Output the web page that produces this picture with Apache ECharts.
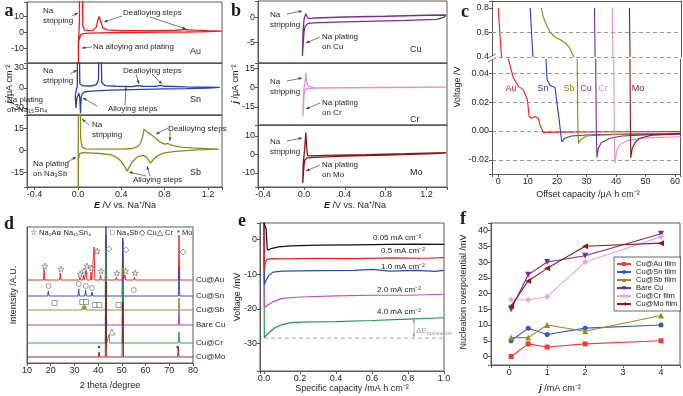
<!DOCTYPE html>
<html>
<head>
<meta charset="utf-8">
<script src="https://cdn.jsdelivr.net/npm/echarts@6/dist/echarts.min.js"></script>
<style>
html, body { margin: 0; padding: 0; background: #fff; }
#chart { width: 683px; height: 396px; }
</style>
</head>
<body>
<div id="chart"></div>
<script>
// ---------- panel a: CV of alloy films (E / V, j / uA cm-2) ----------
const cvAu = [
  [1.33, 0.8], [1.2, 0.5], [1.0, 0.3], [0.8, 0.2], [0.6, 0.1], [0.4, 0.0], [0.2, -0.2], [0.1, -0.4], [0.05, -0.7],
  [0.025, -1.4], [0.012, -2.5], [0.005, -6], [0.0, -200],
  [0.004, -6], [0.01, 0], [0.014, 8], [0.022, 200], [0.036, 200], [0.045, 4], [0.06, 1.6], [0.1, 1.2], [0.14, 1.5],
  [0.17, 3.5], [0.185, 8], [0.195, 10], [0.21, 7], [0.23, 2.8], [0.27, 1.6], [0.4, 1.2], [0.7, 1.2], [0.9, 1.4],
  [1.0, 1.8], [1.08, 1.5], [1.2, 1.1], [1.33, 0.8]
]
const cvSn = [
  [1.31, 0.8], [1.2, 0.0], [1.0, -0.8], [0.8, -1.3], [0.6, -2.0], [0.4, -2.8], [0.3, -3.3], [0.2, -4.0], [0.1, -5.0],
  [0.06, -6.0], [0.04, -8.5], [0.03, -14], [0.024, -38], [0.018, -16], [0.01, -8], [0.0, -9], [-0.01, -15],
  [-0.018, -30], [-0.024, -12],
  [-0.016, -3], [-0.006, 2], [0.0, 200], [0.01, 200], [0.018, 6], [0.05, 3.2], [0.12, 3.0], [0.17, 5], [0.19, 12],
  [0.2, 200], [0.21, 200], [0.22, 8], [0.25, 3.6], [0.35, 2.6], [0.5, 2.1], [0.53, 3.0], [0.56, 3.6], [0.6, 2.6],
  [0.72, 2.4], [0.76, 3.8], [0.8, 2.6], [1.0, 1.8], [1.2, 1.2], [1.31, 0.8]
]
const cvSb = [
  [1.3, 0.8], [1.1, 0.2], [1.0, -0.2], [0.9, -0.8], [0.8, -1.8], [0.74, -3.5], [0.7, -6], [0.67, -8.8], [0.655, -7],
  [0.63, -4.5], [0.6, -3.5], [0.55, -4.5], [0.5, -8], [0.47, -12], [0.455, -14.2], [0.43, -11], [0.4, -7.5],
  [0.35, -4.5], [0.3, -3], [0.2, -2.2], [0.1, -1.8], [0.04, -1.6], [0.015, -2.5], [0.005, -6], [0.0, -200],
  [0.003, -4], [0.006, 200], [0.012, 200], [0.025, 8], [0.04, 2], [0.07, 1], [0.2, 0.8], [0.4, 0.8], [0.5, 1.2],
  [0.55, 2.5], [0.58, 5], [0.6, 10], [0.61, 14.3], [0.63, 13], [0.67, 11], [0.72, 8], [0.76, 5.5], [0.8, 4.2],
  [0.83, 4.6], [0.87, 3.3], [0.95, 2.2], [1.05, 1.6], [1.2, 1.1], [1.3, 0.8]
]

// ---------- panel b: CV of non-alloy films ----------
const cvCu = [
  [1.39, 0.45], [1.37, 0.0], [1.3, -0.4], [1.0, -0.6], [0.6, -0.8], [0.3, -0.95], [0.1, -1.1], [0.04, -1.2],
  [0.01, -1.8], [0.0, -3], [-0.01, -6], [-0.015, -7.6],
  [-0.01, -3], [0.0, -0.5], [0.01, 0.3], [0.02, 0.7], [0.028, 0.2], [0.04, -0.2], [0.1, -0.15], [0.4, 0.05],
  [0.8, 0.2], [1.2, 0.4], [1.39, 0.45]
]
const cvCr = [
  [1.39, 0.4], [1.2, 0.1], [0.8, -0.1], [0.4, -0.3], [0.1, -0.5], [0.03, -0.8], [0.01, -2], [0.0, -6], [-0.01, -22.5],
  [-0.006, -8], [0.0, -1], [0.01, 4], [0.018, 11.5], [0.025, 6], [0.035, 1.5], [0.05, 0], [0.1, -0.3], [0.4, -0.1],
  [0.8, 0.1], [1.2, 0.3], [1.39, 0.4]
]
const cvMo = [
  [1.39, 0.6], [1.2, 0.2], [0.8, -0.4], [0.4, -1.0], [0.1, -1.6], [0.03, -1.9], [0.01, -3], [0.0, -6], [-0.012, -15.5],
  [-0.008, -5], [0.0, -1], [0.01, 5], [0.018, 11.7], [0.026, 4], [0.035, -0.6], [0.06, -0.8], [0.2, -0.6],
  [0.6, -0.2], [1.0, 0.3], [1.39, 0.9]
]

// ---------- panel c: voltage vs offset capacity (upper part 0.4-0.8 V, lower part near 0 V) ----------
const vAuHigh = [[0, 0.8], [1.1, 0.4]]
const vSnHigh = [[10.8, 0.8], [11.7, 0.4]]
const vSbHigh = [[14.5, 0.8], [15.3, 0.72], [16.5, 0.65], [17.6, 0.6], [19.3, 0.56], [21, 0.54], [22.7, 0.515], [24.2, 0.47], [25.5, 0.4]]
const vCuHigh = [[32.5, 0.8], [32.7, 0.4]]
const vCrHigh = [[38.5, 0.8], [38.7, 0.4]]
const vMoHigh = [[44.3, 0.8], [44.5, 0.4]]
const vAuLow = [[3.4, 0.05], [5.1, 0.037], [6.8, 0.031], [8.5, 0.0286], [9.9, 0.0216], [10.5, 0.01], [11.3, 0.0088],
  [12.5, 0.01], [13.6, 0.0088], [14.2, 0.0042], [15.3, -0.001], [20, -0.0008], [30, -0.0007], [45, -0.0006], [62, -0.0005]]
const vSnLow = [[16.2, 0.05], [16.6, 0.0356], [17.6, 0.0314], [19.3, 0.03], [19.8, 0.0216], [20.7, 0.0077], [21.2, -0.0016],
  [21.6, -0.0074], [22.6, -0.005], [24.9, -0.0035], [30, -0.0028], [40, -0.0024], [50, -0.002], [62, -0.0018]]
const vSbLow = [[26.8, 0.05], [27.0, 0.01], [27.2, -0.0086], [28, -0.006], [30, -0.0035], [35, -0.0028], [45, -0.0022], [62, -0.0016]]
const vCuLow = [[33.1, 0.05], [33.3, 0.0], [33.5, -0.0184], [34, -0.012], [35, -0.008], [38, -0.005], [42, -0.0035], [50, -0.0027], [62, -0.0022]]
const vCrLow = [[39.2, 0.05], [39.4, 0.0], [39.6, -0.0226], [40.2, -0.014], [41, -0.01], [44, -0.0065], [50, -0.0048], [62, -0.004]]
const vMoLow = [[44.7, 0.05], [44.9, 0.0], [45.0, -0.0186], [45.5, -0.012], [46.5, -0.008], [48, -0.005], [52, -0.003], [62, -0.0018]]
const cHighGuides = [0.6, 0.4]

// ---------- panel d: XRD (2 theta, offset intensity) ----------
const xrdNames = ['Cu@Au', 'Cu@Sn', 'Cu@Sb', 'Bare Cu', 'Cu@Cr', 'Cu@Mo']
const xrdBase = [83, 67, 53, 38, 20, 6]
const xrdPeaks = [
  [[17.2, 11], [24.0, 7], [32.3, 3], [33.8, 5], [35.0, 10], [37.0, 8], [38.3, 33], [41.0, 5], [43.3, 45], [47.7, 3], [50.4, 39], [51.3, 5], [55.3, 3], [74.1, 45]],
  [[19.0, 5], [31.8, 7], [34.7, 6], [37.4, 4], [43.3, 80], [50.4, 58], [55.0, 2], [74.1, 29]],
  [[21.6, 2], [33.4, 4], [34.1, 5], [34.8, 4], [38.7, 2], [40.5, 2], [43.3, 40], [48.6, 2], [50.4, 42], [74.1, 12]],
  [[43.3, 45], [50.4, 50], [74.1, 15]],
  [[43.3, 93], [44.6, 8], [50.4, 60], [74.1, 11]],
  [[40.4, 5], [43.3, 75], [50.4, 55], [73.8, 10]]
]
const markNa2Au = [[17.5, 97], [24.3, 94], [32.4, 89], [34.0, 92], [35.3, 97], [37.2, 95], [39.6, 112], [41.3, 92], [47.9, 90], [51.6, 92], [55.6, 90]]
const markNaSn = [[19.1, 77], [31.8, 79], [34.8, 77], [37.4, 75], [55.0, 73]]
const markNa3Sb = [[21.6, 60], [33.3, 61], [34.9, 61], [38.6, 58], [40.5, 58], [48.6, 58]]
const markCu = [[44.6, 114], [51.8, 113], [75.8, 111]]
const markCr = [[45.8, 31]]
const markMo = [[40.4, 16], [73.5, 16]]

// ---------- panel e: voltage profiles (mA h cm-2, mV) ----------
const eLabels = ['0.05 mA cm⁻²', '0.5 mA cm⁻²', '1.0 mA cm⁻²', '2.0 mA cm⁻²', '4.0 mA cm⁻²']
const e005 = [[0.0, 5], [0.006, 5], [0.012, 3], [0.018, -2.5], [0.022, -3.1], [0.04, -2.6], [0.08, -2.1], [0.15, -1.8], [0.3, -1.6], [0.5, -1.5], [0.7, -1.4], [0.85, -1.3], [1.0, -1.4]]
const e05 = [[0.0, 5], [0.002, -8.5], [0.006, -7], [0.015, -5.8], [0.04, -5.5], [0.1, -5.6], [0.3, -5.4], [0.5, -5.5], [0.7, -5.3], [0.9, -5.4], [1.0, -5.2]]
const e10 = [[0.0, 5], [0.002, -13], [0.01, -12], [0.025, -10.5], [0.05, -9.4], [0.1, -9.1], [0.3, -9.0], [0.5, -8.9], [0.6, -8.6], [0.7, -9.1], [0.85, -8.9], [0.95, -9.2], [1.0, -8.9]]
const e20 = [[0.0, 5], [0.002, -19.6], [0.02, -19], [0.05, -18], [0.1, -17], [0.2, -16.6], [0.4, -16.3], [0.6, -16.1], [0.8, -16.1], [1.0, -15.8]]
const e40 = [[0.0, 5], [0.002, -28.3], [0.01, -28], [0.03, -26.8], [0.06, -25.5], [0.1, -24.6], [0.15, -24.0], [0.25, -23.8], [0.4, -23.7], [0.6, -23.4], [0.8, -23.0], [1.0, -22.6]]
const eNucleation = [[0, -28.5], [1.0, -28.5]]

// ---------- panel f: nucleation overpotential ----------
const fNames = ['Cu@Au film', 'Cu@Sn film', 'Cu@Sb film', 'Bare Cu', 'Cu@Cr film', 'Cu@Mo film']
const fJ = [0.05, 0.5, 1, 2, 4]
const fAu = [0, 4, 3, 4, 5]
const fSn = [5, 9, 7, 9, 10]
const fSb = [6, 6, 10, 8, 13]
const fCu = [15, 26, 30, 32, 39]
const fCr = [18, 18, 19, 30, 38]
const fMo = [16, 24, 28, 35, 36]

// ---------- styles ----------
const FONT = '"Liberation Sans", Arial, Helvetica, sans-serif'
const SERIF = '"Liberation Serif", "DejaVu Serif", serif'
const AX = '#5a5a5a'
const TX = '#1e1e1e'
const ANN = '#444'
const colAu = '#ee1c1c', colSn = '#2a3fb0', colSb = '#8a8a1e', colCu = '#7b2a8e', colCr = '#e58fd6', colMo = '#8c1414'

const grids = []
const xAxes = []
const yAxes = []
const series = []
const graphics = []

function fmt(step, dec) {
  return function (v) {
    const k = v / step
    if (Math.abs(k - Math.round(k)) > 1e-6) return ''
    let r = Math.round(k) * step
    if (Math.abs(r) < 1e-9) r = 0
    return r.toFixed(dec)
  }
}

function addGrid(left, top, width, height, border = true) {
  grids.push({ left, top, width, height, show: border, borderColor: AX, borderWidth: 1, backgroundColor: 'transparent' })
  return grids.length - 1
}

function addAxis(list, gi, min, max, step, dec, opt = {}) {
  list.push({
    type: 'value', gridIndex: gi, min, max,
    minInterval: step, maxInterval: step,
    position: opt.position,
    axisLine: { show: opt.line !== false, onZero: false, lineStyle: { color: AX, width: 1 } },
    axisTick: { show: !!opt.labels, length: 3, lineStyle: { color: AX } },
    axisLabel: { show: !!opt.labels, fontSize: 9, color: TX, fontFamily: FONT, margin: 3, formatter: fmt(step, dec) },
    splitLine: opt.split || { show: false }
  })
  return list.length - 1
}

function line(name, xi, yi, data, color, width = 1.2, extra = {}) {
  series.push(Object.assign({
    type: 'line', name, xAxisIndex: xi, yAxisIndex: yi, data,
    showSymbol: false, symbol: 'none', clip: true, silent: true,
    lineStyle: { color, width }, itemStyle: { color }
  }, extra))
}

function txt(x, y, text, o = {}) {
  graphics.push({
    type: 'text', x, y, z: 100, silent: true, rotation: o.rot || 0,
    style: {
      text, fill: o.color || TX, fontSize: o.size || 8, fontFamily: o.family || FONT,
      fontWeight: o.weight || 'normal', align: o.align || 'left', verticalAlign: o.va || 'middle',
      lineHeight: o.lh, rich: o.rich
    }
  })
}

function head(x1, y1, x2, y2, color) {
  const a = Math.atan2(y2 - y1, x2 - x1), L = 3.5, W = 1.4
  const bx = x2 - L * Math.cos(a), by = y2 - L * Math.sin(a)
  graphics.push({
    type: 'polygon', z: 100, silent: true,
    shape: { points: [[x2, y2], [bx + W * Math.sin(a), by - W * Math.cos(a)], [bx - W * Math.sin(a), by + W * Math.cos(a)]] },
    style: { fill: color }
  })
}

function arrow(x1, y1, x2, y2, color = ANN, both = false) {
  graphics.push({ type: 'line', z: 100, silent: true, shape: { x1, y1, x2, y2 }, style: { stroke: color, lineWidth: 0.7 } })
  head(x1, y1, x2, y2, color)
  if (both) head(x2, y2, x1, y1, color)
}

const richAxis = {
  b: { fontWeight: 'bold', fontStyle: 'italic', fontSize: 9, fontFamily: FONT, fill: TX },
  t: { fontSize: 9, fontFamily: FONT, fill: TX }
}
const dashStyle = { type: [4, 3], color: '#9a9a9a', width: 1 }

// ---------- panel a ----------
const aRanges = [[-19, 19, 10], [-40.5, 37.5, 30], [-25, 24, 15]]
const aBoxes = [[2, 61], [63, 52], [115, 72]]
const aData = [[cvAu, colAu], [cvSn, colSn], [cvSb, colSb]]
aBoxes.forEach((b, i) => {
  const g = addGrid(27, b[0], 195, b[1])
  const xi = addAxis(xAxes, g, -0.47, 1.33, 0.4, 1, { labels: i === 2 })
  const yi = addAxis(yAxes, g, aRanges[i][0], aRanges[i][1], aRanges[i][2], 0, { labels: true })
  line('a' + i, xi, yi, aData[i][0], aData[i][1], 1.3)
})

// ---------- panel b ----------
const bRanges = [[-9, 3.2, 5], [-29, 19, 15], [-17.6, 15.8, 10]]
const bBoxes = [[1, 62], [63, 62], [125, 62]]
const bData = [[cvCu, colCu], [cvCr, colCr], [cvMo, colMo]]
bBoxes.forEach((b, i) => {
  const g = addGrid(258, b[0], 189, b[1])
  const xi = addAxis(xAxes, g, -0.45, 1.4, 0.4, 1, { labels: i === 2 })
  const yi = addAxis(yAxes, g, bRanges[i][0], bRanges[i][1], bRanges[i][2], 0, { labels: true })
  line('b' + i, xi, yi, bData[i][0], bData[i][1], 1.3)
})

// ---------- panel c ----------
const gcu = addGrid(492, 1, 189, 56, false)
const xcu = addAxis(xAxes, gcu, -2.1, 61.7, 10, 0, { position: 'top' })
const ycu = addAxis(yAxes, gcu, 0.4, 0.857, 0.2, 1, { labels: true })
addAxis(yAxes, gcu, 0.4, 0.857, 0.2, 1, { position: 'right' })
const gcl = addGrid(492, 59, 189, 115, false)
const xcl = addAxis(xAxes, gcl, -2.1, 61.7, 10, 0, { labels: true })
const ycl = addAxis(yAxes, gcl, -0.0298, 0.0498, 0.02, 2, {
  labels: true, split: { show: true, showMinLine: false, showMaxLine: false, lineStyle: dashStyle }
})
addAxis(yAxes, gcl, -0.0298, 0.0498, 0.02, 2, { position: 'right' })
const cHigh = [vAuHigh, vSnHigh, vSbHigh, vCuHigh, vCrHigh, vMoHigh]
const cLow = [vAuLow, vSnLow, vSbLow, vCuLow, vCrLow, vMoLow]
const cCols = [colAu, colSn, colSb, colCu, colCr, colMo]
cHigh.forEach((d, i) => line('ch' + i, xcu, ycu, d, cCols[i], 1.1, i === 0 ? {
  markLine: { silent: true, symbol: 'none', label: { show: false }, lineStyle: dashStyle, data: cHighGuides.map(v => ({ yAxis: v })) }
} : {}))
cLow.forEach((d, i) => line('cl' + i, xcl, ycl, d, cCols[i], 1.1))

// ---------- panel d ----------
const gd = addGrid(27, 227, 166, 136)
const xd = addAxis(xAxes, gd, 10, 80, 10, 0, { labels: true })
const yd = addAxis(yAxes, gd, 0, 136, 500, 0, {})
const dCols = [colAu, colSn, colSb, '#8d3aa3', '#1f9a4a', colMo]
xrdNames.forEach((n, i) => {
  const base = xrdBase[i]
  const pts = [[10, base]]
  xrdPeaks[i].forEach(p => { pts.push([p[0] - 0.3, base], [p[0], base + p[1]], [p[0] + 0.3, base]) })
  pts.push([80, base])
  line('xrd ' + n, xd, yd, pts, dCols[i], 0.9)
})
const STAR = 'path://M50,0 L61,35 L98,35 L68,57 L79,91 L50,70 L21,91 L32,57 L2,35 L39,35 Z'
const markStyle = { color: '#fff', borderColor: '#555', borderWidth: 0.7 }
;[[markNa2Au, STAR, 6], [markNaSn, 'circle', 5], [markNa3Sb, 'rect', 5], [markCu, 'diamond', 6], [markCr, 'triangle', 6]].forEach((m, i) => {
  series.push({ type: 'scatter', name: 'mk' + i, xAxisIndex: xd, yAxisIndex: yd, data: m[0], symbol: m[1], symbolSize: m[2], itemStyle: markStyle, silent: true, z: 5 })
})
series.push({ type: 'scatter', name: 'mkMo', xAxisIndex: xd, yAxisIndex: yd, data: markMo, symbol: 'circle', symbolSize: 2.5, itemStyle: { color: '#222' }, silent: true, z: 5 })

// ---------- panel e ----------
const ge = addGrid(260, 223, 184, 148)
const xe = addAxis(xAxes, ge, -0.022, 1.0, 0.2, 1, { labels: true })
const ye = addAxis(yAxes, ge, -38, 4.8, 10, 0, { labels: true })
line('nuc', xe, ye, eNucleation, '#a8a8a8', 1, { lineStyle: { color: '#a8a8a8', width: 1, type: [4, 3] } })
const eData = [e40, e20, e10, e05, e005]
const eCols = ['#1f9a4a', '#c050c8', '#2848c0', '#ee2020', '#111']
eData.forEach((d, i) => line('e' + i, xe, ye, d, eCols[i], 1.2))

// ---------- panel f ----------
const gf = addGrid(491, 223, 190, 142)
const xf = addAxis(xAxes, gf, -0.48, 4.5, 1, 0, { labels: true })
const yf = addAxis(yAxes, gf, -2.7, 42.4, 5, 0, { labels: true })
const fData = [fAu, fSn, fSb, fCu, fCr, fMo]
const fCols = ['#f23a3a', '#3358c4', '#8f8f2a', '#7b2a8e', '#e8a3e0', '#8c1c1c']
const fSym = [['rect', 0, 5], ['circle', 0, 5], ['triangle', 0, 6], ['triangle', 180, 6], ['diamond', 0, 6], ['triangle', 90, 6]]
fData.forEach((vals, i) => {
  series.push({
    type: 'line', name: fNames[i], xAxisIndex: xf, yAxisIndex: yf,
    data: vals.map((v, k) => [fJ[k], v]),
    symbol: fSym[i][0], symbolRotate: fSym[i][1], symbolSize: fSym[i][2], showSymbol: true,
    lineStyle: { color: fCols[i], width: 1.1 }, itemStyle: { color: fCols[i] }, silent: true
  })
})

// ---------- annotations ----------
// panel letters
;[['a', 9, 11], ['b', 236, 11], ['c', 465, 12], ['d', 9, 224], ['e', 242, 221], ['f', 463, 219]].forEach(p =>
  txt(p[1], p[2], p[0], { size: 18, family: SERIF, weight: 'bold', align: 'center' }))

// axis titles
txt(125, 206, '{b|E}{t| /V vs. Na⁺/Na}', { align: 'center', rich: richAxis })
txt(355, 206, '{b|E}{t| /V vs. Na⁺/Na}', { align: 'center', rich: richAxis })
txt(10, 84, '{b|j}{t| /μA cm⁻²}', { align: 'center', rot: Math.PI / 2, rich: richAxis })
txt(236, 84, '{b|j}{t| /μA cm⁻²}', { align: 'center', rot: Math.PI / 2, rich: richAxis })
txt(588, 195, 'Offset capacity /μA h cm⁻²', { size: 9, align: 'center' })
txt(458, 87, 'Voltage /V', { size: 9, align: 'center', rot: Math.PI / 2 })
txt(110, 386, '2 theta /degree', { size: 9, align: 'center' })
txt(14, 295, 'Intentsity /A.U.', { size: 9, align: 'center', rot: Math.PI / 2 })
txt(352, 389, 'Specific capacity /mA h cm⁻²', { size: 9, align: 'center' })
txt(238, 297, 'Voltage /mV', { size: 9, align: 'center', rot: Math.PI / 2 })
txt(560, 389, '{b|j}{t| /mA cm⁻²}', { align: 'center', rich: richAxis })
txt(464, 292, 'Nucleation overpotential /mV', { size: 9, align: 'center', rot: Math.PI / 2 })

// panel a notes
txt(43, 6, 'Na\nstripping', { va: 'top', lh: 10 })
arrow(72, 16, 78, 13)
txt(123, 13, 'Dealloying steps')
arrow(122, 16, 104, 22)
arrow(150, 17, 186, 29)
txt(93, 47, 'Na alloying and plating')
arrow(92, 47, 82, 48)
txt(190, 52, 'Au', { size: 9 })
txt(43, 66, 'Na\nstripping', { va: 'top', lh: 10 })
arrow(70, 74, 77, 70)
txt(123, 71, 'Dealloying steps')
arrow(136, 74, 139, 84)
arrow(152, 74, 162, 84)
txt(7, 95, 'Na plating\non Na₁₅Sn₄', { va: 'top', lh: 10 })
arrow(97, 106, 83, 98)
txt(108, 109, 'Alloying steps')
arrow(125, 105, 126, 87)
txt(190, 100, 'Sn', { size: 9 })
txt(92, 120, 'Na\nstripping', { va: 'top', lh: 10 })
arrow(89, 125, 82, 119)
txt(168, 129, 'Dealloying steps')
arrow(168, 128, 156, 134)
arrow(170, 131, 170, 141)
txt(33, 159, 'Na plating\non Na₃Sb', { va: 'top', lh: 10 })
arrow(66, 163, 76, 157)
txt(133, 180, 'Alloying steps')
arrow(146, 176, 129, 172)
arrow(150, 176, 147, 166)
txt(190, 173, 'Sb', { size: 9 })

// panel b notes
;[[10, 32, 'Cu', 50], [77, 98, 'Cr', 120], [137, 160, 'Mo', 173]].forEach(r => {
  txt(270, r[0], 'Na\nstripping', { va: 'top', lh: 10 })
  arrow(287, r[0] + 4, 302, r[0] + 1)
  txt(322, r[1], 'Na plating\non ' + r[2], { va: 'top', lh: 10 })
  arrow(320, r[1] + 5, 306, r[1] + 11)
  txt(410, r[3], r[2], { size: 9 })
})

// panel c labels and axis break
;[['Au', 511], ['Sn', 543], ['Sb', 569], ['Cu', 586], ['Cr', 603], ['Mo', 638]].forEach((l, i) =>
  txt(l[1], 89, l[0], { size: 9, color: cCols[i], align: 'center' }))
graphics.push({ type: 'rect', z: 99, silent: true, shape: { x: 488, y: 56, width: 8, height: 4 }, style: { fill: '#fff' } })
graphics.push({ type: 'line', z: 100, silent: true, shape: { x1: 488, y1: 58, x2: 496, y2: 54 }, style: { stroke: AX, lineWidth: 0.8 } })
graphics.push({ type: 'line', z: 100, silent: true, shape: { x1: 488, y1: 62, x2: 496, y2: 58 }, style: { stroke: AX, lineWidth: 0.8 } })

// panel d legend and trace names
;[[30, '☆ Na₂Au'], [57, '○ Na₁₅Sn₄'], [110, '□ Na₃Sb'], [139, '◇ Cu'], [157, '△ Cr'], [177, '* Mo']].forEach(l =>
  txt(l[0], 233, l[1], { size: 7.5 }))
;[280, 296, 310, 325, 343, 357].forEach((y, i) => txt(196, y, xrdNames[i], { size: 8 }))

// panel e labels
;[[373, 238], [381, 251], [381, 267], [377, 290], [377, 312]].forEach((p, i) => txt(p[0], p[1], eLabels[i], { size: 8 }))
arrow(414, 319, 414, 337, '#999', true)
txt(416, 331, '{d|ΔE}{s|nucleation}', {
  rich: { d: { fontSize: 8, fill: '#999', fontFamily: FONT }, s: { fontSize: 5.5, fill: '#999', fontFamily: FONT, padding: [4, 0, 0, 0] } }
})

const chart = echarts.init(document.getElementById('chart'), null, { renderer: 'canvas' })
chart.setOption({
  animation: false,
  backgroundColor: '#fff',
  textStyle: { fontFamily: FONT },
  grid: grids,
  xAxis: xAxes,
  yAxis: yAxes,
  legend: {
    data: fNames, orient: 'vertical', left: 614, top: 257, itemWidth: 14, itemHeight: 5, itemGap: 0,
    padding: [3, 3, 3, 2], borderColor: '#444', borderWidth: 0.8, backgroundColor: '#fff', selectedMode: false,
    textStyle: { fontSize: 7.5, fontFamily: FONT, color: TX }
  },
  series,
  graphic: { elements: graphics }
})
</script>
</body>
</html>
